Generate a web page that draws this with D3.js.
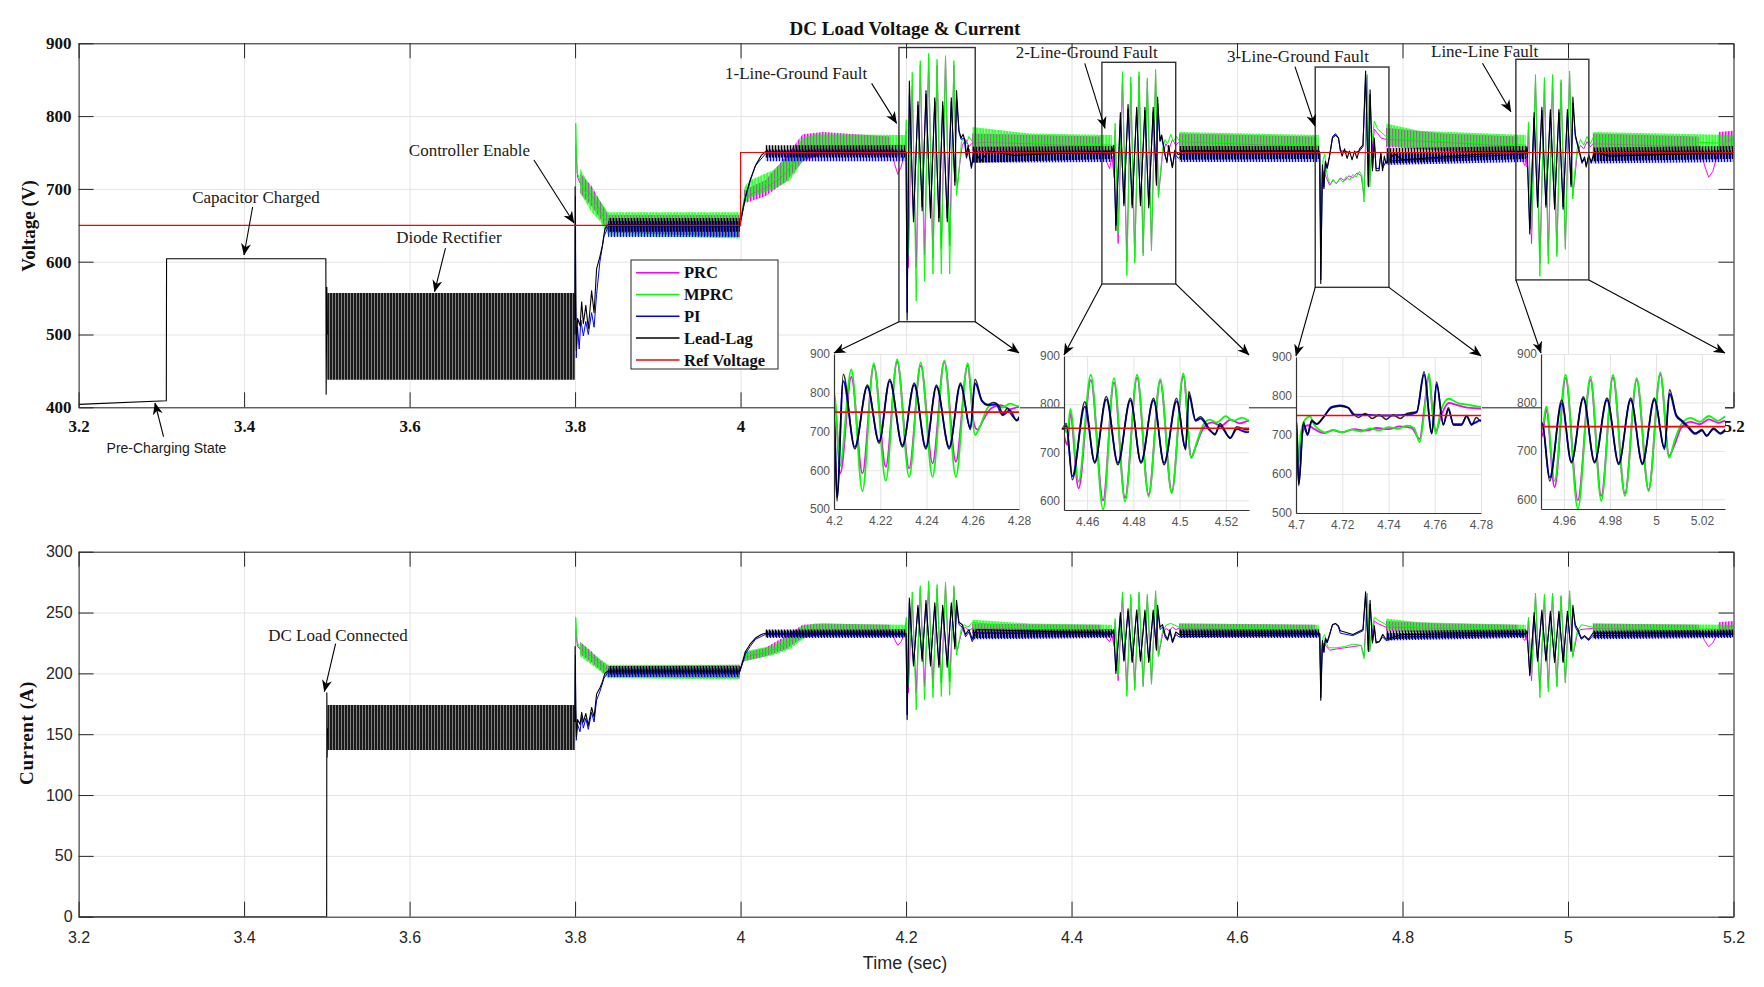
<!DOCTYPE html>
<html>
<head>
<meta charset="utf-8">
<script src="https://cdn.jsdelivr.net/npm/d3@7"></script>
<style>
  body { margin: 0; background: #fff; }
  svg { display: block; }
</style>
</head>
<body>
<div id="chart"></div>
<script>
// DC load voltage & current under four controllers, with zoomed fault insets.

const T_TICKS = [3.2, 3.4, 3.6, 3.8, 4, 4.2, 4.4, 4.6, 4.8, 5, 5.2];
const V_TICKS = [400, 500, 600, 700, 800, 900];
const I_TICKS = [0, 50, 100, 150, 200, 250, 300];
const SERIES = ['PRC', 'MPRC', 'PI', 'Lead-Lag'];
const LEGEND_LABELS = ['PRC', 'MPRC', 'PI', 'Lead-Lag', 'Ref Voltage'];

// ---- voltage traces [t (s), V] ----
const V_REF = [[3.2, 650], [4, 650], [4, 750], [5.2, 750]];

const V_PRC = [
  [3.8,500],[3.8008,760],[3.803,716],[3.806,708],[3.81,702],[3.815,697],[3.82,690],[3.825,682],[3.83,670],[3.835,660],[3.84,652],[3.999,651],
  [4.005,688],[4.015,694],[4.03,701],[4.045,712],[4.055,722],[4.065,737],[4.075,752],[4.09,759],[4.182,757],[4.186,735],[4.19,720],[4.194,730],[4.199,752],
  [4.2003,780],[4.2027,592],[4.2075,841],[4.2123,592],[4.2172,870],[4.2224,609],[4.2273,880],[4.2325,605],[4.2375,870],[4.2426,618],[4.2477,880],[4.2527,622],[4.2578,870],[4.2605,720],[4.262,705],[4.265,735],[4.268,760],[4.272,768],[4.276,758],[4.28,763],[4.3,764],[4.438,758],[4.442,738],[4.446,728],[4.449,745],
  [4.4515,715],[4.4527,780],[4.4563,625],[4.4616,850],[4.4669,600],[4.4716,845],[4.4764,605],[4.4816,855],[4.4866,612],[4.4916,848],[4.4966,618],[4.5016,858],[4.505,690],[4.507,712],[4.51,748],[4.514,762],[4.518,755],[4.522,768],[4.526,760],[4.53,765],[4.6,762],[4.695,757],
  [4.6995,745],[4.7008,660],[4.7015,640],[4.7025,700],[4.705,725],[4.708,715],[4.712,705],[4.716,712],[4.72,707],[4.725,715],[4.73,711],[4.735,718],[4.74,715],[4.745,722],[4.75,718],[4.7535,690],[4.7555,770],[4.7575,852],[4.759,765],[4.7605,710],[4.7625,745],[4.766,782],[4.77,776],[4.774,770],[4.78,768],[4.85,764],[4.942,758],[4.945,738],[4.948,732],[4.9495,745],
  [4.9505,730],[4.9523,785],[4.9559,625],[4.9607,850],[4.966,598],[4.9715,846],[4.9762,607],[4.9813,852],[4.9865,612],[4.9916,846],[4.9968,620],[5.0019,858],[5.0057,690],[5.008,712],[5.011,748],[5.015,760],[5.019,755],[5.023,765],[5.027,758],[5.03,762],[5.16,758],[5.165,732],[5.17,716],[5.175,724],[5.18,745],[5.19,765],[5.2,768]
];

const V_MPRC = [
  [3.8,500],[3.8008,790],[3.8025,722],[3.806,712],[3.81,700],[3.815,690],[3.82,682],[3.825,675],[3.83,667],[3.835,660],[3.84,652],[3.999,651],
  [4.005,690],[4.0115,700],[4.025,705],[4.04,712],[4.0516,722],[4.06,730],[4.068,745],[4.08,755],[4.09,760],[4.199,760],
  [4.2003,795],[4.2025,610],[4.2075,860],[4.2123,546],[4.2172,876],[4.2224,573],[4.2273,886],[4.2325,583],[4.2375,878],[4.2426,583],[4.2477,883],[4.2527,583],[4.2578,876],[4.261,691],[4.263,712],[4.267,765],[4.27,770],[4.273,762],[4.276,772],[4.28,765],[4.29,772],[4.35,764],[4.449,760],
  [4.4515,740],[4.4527,790],[4.4563,639],[4.4616,861],[4.4669,581],[4.4716,854],[4.4764,598],[4.4816,861],[4.4866,608],[4.4916,852],[4.4966,615],[4.5016,864],[4.505,688],[4.5075,722],[4.51,755],[4.513,768],[4.516,762],[4.52,775],[4.523,765],[4.527,772],[4.53,766],[4.6,763],[4.699,760],
  [4.7005,700],[4.7012,630],[4.702,700],[4.704,740],[4.706,748],[4.708,725],[4.7104,712],[4.713,706],[4.716,713],[4.72,707],[4.724,714],[4.728,709],[4.732,717],[4.736,712],[4.74,720],[4.744,716],[4.748,724],[4.751,718],[4.7535,682],[4.7555,760],[4.7575,857],[4.759,760],[4.7605,703],[4.7625,760],[4.766,793],[4.77,782],[4.774,778],[4.78,772],[4.82,768],[4.949,760],
  [4.9505,745],[4.9523,792],[4.9559,638],[4.9607,857],[4.966,580],[4.9715,853],[4.9762,597],[4.9813,857],[4.9865,607],[4.9916,850],[4.9968,617],[5.0019,862],[5.0057,686],[5.008,720],[5.011,755],[5.015,768],[5.019,760],[5.023,772],[5.027,762],[5.03,770],[5.2,762]
];

const V_PI = [
  [3.8,500],[3.8005,690],[3.8008,545],[3.8015,468],[3.803,510],[3.805,480],[3.807,520],[3.81,498],[3.813,518],[3.816,500],[3.82,530],[3.823,510],[3.826,555],[3.83,600],[3.835,635],[3.84,648],[3.999,648],
  [4.006,688],[4.012,712],[4.018,732],[4.03,748],[4.199,748],
  [4.2,748],[4.2013,530],[4.204,830],[4.209,660],[4.2144,815],[4.2195,675],[4.2241,830],[4.2296,665],[4.2347,820],[4.2397,660],[4.2443,815],[4.2498,660],[4.2547,820],[4.259,710],[4.261,825],[4.264,778],[4.2665,768],[4.27,770],[4.273,742],[4.276,755],[4.279,728],[4.282,750],[4.449,748],
  [4.451,755],[4.4536,650],[4.459,795],[4.4633,680],[4.4683,810],[4.4733,678],[4.4787,808],[4.4833,680],[4.4887,808],[4.4933,678],[4.4987,806],[4.5026,708],[4.504,818],[4.5069,765],[4.509,770],[4.5131,745],[4.5153,738],[4.5174,755],[4.5219,730],[4.5247,748],[4.529,742],[4.535,748],[4.699,748],
  [4.7,748],[4.7012,575],[4.7032,728],[4.705,700],[4.7068,735],[4.709,728],[4.7118,745],[4.7154,772],[4.719,776],[4.7226,770],[4.7248,752],[4.73,752],[4.736,750],[4.742,750],[4.748,752],[4.7522,758],[4.7554,855],[4.7587,705],[4.7608,830],[4.7637,728],[4.7659,765],[4.7681,728],[4.7716,728],[4.7738,748],[4.7759,728],[4.78,738],[4.949,748],
  [4.9505,755],[4.9538,645],[4.959,798],[4.9632,678],[4.9684,808],[4.9733,678],[4.9787,805],[4.9838,675],[4.989,805],[4.9941,675],[4.9993,805],[5.0037,706],[5.0059,818],[5.0088,772],[5.011,762],[5.014,748],[5.017,735],[5.02,742],[5.022,732],[5.025,745],[5.028,735],[5.032,748],[5.2,748]
];

const V_LEADLAG = [
  [3.2,404],[3.306,409],[3.3063,604],[3.4988,604],[3.4992,418],[3.5,565],[3.5006,500],[3.5008,null],[3.7996,null],[3.7998,520],
  [3.8,703],[3.8008,560],[3.8015,478],[3.803,522],[3.806,512],[3.808,545],[3.81,515],[3.813,540],[3.816,508],[3.82,560],[3.823,530],[3.826,590],[3.83,607],[3.833,622],[3.836,645],[3.84,651],[3.999,650],
  [4.006,690],[4.0115,712],[4.018,732],[4.025,746],[4.03,751],[4.199,751],
  [4.2,750],[4.2013,520],[4.204,848],[4.209,655],[4.2144,820],[4.2195,670],[4.2241,835],[4.2296,660],[4.2347,825],[4.2397,655],[4.2443,820],[4.2498,655],[4.2547,825],[4.259,705],[4.261,835],[4.264,780],[4.2665,770],[4.269,775],[4.2715,765],[4.273,745],[4.275,760],[4.2765,745],[4.279,730],[4.282,755],[4.29,738],[4.3,752],[4.33,746],[4.449,752],
  [4.451,760],[4.4536,643],[4.459,805],[4.4633,677],[4.4683,816],[4.4733,674],[4.4787,812],[4.4833,677],[4.4887,812],[4.4933,674],[4.4987,812],[4.5026,705],[4.504,826],[4.5069,767],[4.509,774],[4.5131,747],[4.5153,736],[4.5174,760],[4.5219,729],[4.5247,753],[4.529,747],[4.535,752],[4.699,752],
  [4.7,750],[4.7012,570],[4.7032,733],[4.705,703],[4.7068,738],[4.709,729],[4.7118,745],[4.7154,770],[4.719,774],[4.7226,770],[4.7248,755],[4.727,745],[4.73,755],[4.733,742],[4.736,752],[4.739,740],[4.742,752],[4.745,742],[4.748,755],[4.7522,760],[4.7554,862],[4.7587,703],[4.7608,836],[4.7637,725],[4.7659,770],[4.7681,725],[4.7716,725],[4.7738,750],[4.7759,725],[4.778,745],[4.78,735],[4.79,748],[4.8,740],[4.949,752],
  [4.9505,758],[4.9538,638],[4.959,805],[4.9632,675],[4.9684,812],[4.9733,675],[4.9787,809],[4.9838,672],[4.989,809],[4.9941,672],[4.9993,809],[5.0037,703],[5.0059,826],[5.0088,775],[5.011,764],[5.014,751],[5.017,737],[5.02,744],[5.022,730],[5.025,747],[5.028,737],[5.032,751],[5.05,745],[5.2,750]
];

// switching ripple envelopes [t, low, high]; null breaks the band
const V_DIODE_RIPPLE = [[3.5006, 438, 557], [3.7996, 438, 557]];
const V_PRC_RIPPLE = [
  [3.806,694,722],[3.82,676,704],[3.83,660,684],[3.84,640,664],[3.999,634,664],null,
  [4.004,680,698],[4.03,690,712],[4.055,710,745],[4.075,738,775],[4.1,748,778],[4.18,746,772],null,
  [4.28,752,776],[4.436,748,772],null,[4.53,752,776],[4.694,748,772],null,
  [4.78,758,784],[4.85,752,776],[4.94,748,772],null,[5.03,752,776],[5.158,750,772],null,[5.182,752,778],[5.2,755,780]
];
const V_MPRC_RIPPLE = [
  [3.806,695,728],[3.82,668,700],[3.83,656,684],[3.84,636,668],[3.999,632,668],null,
  [4.004,680,702],[4.0115,688,712],[4.04,700,726],[4.06,712,748],[4.075,738,770],[4.09,750,775],[4.199,748,774],null,
  [4.28,755,785],[4.35,752,776],[4.449,750,774],null,[4.53,752,778],[4.699,750,774],null,
  [4.78,760,790],[4.82,755,780],[4.949,750,774],null,[5.03,752,778],[5.2,750,774]
];
const V_PI_RIPPLE = [
  [3.84,634,656],[3.999,634,656],null,[4.03,738,754],[4.199,738,754],null,[4.28,736,752],[4.449,737,753],null,
  [4.53,737,753],[4.699,737,753],null,[4.78,733,750],[4.949,737,753],null,[5.03,735,752],[5.2,737,753]
];
const V_LEADLAG_RIPPLE = [
  [3.84,641,660],[3.999,641,660],null,[4.03,743,760],[4.199,743,760],null,[4.28,736,758],[4.449,741,759],null,
  [4.53,740,759],[4.699,741,759],null,[4.78,735,756],[4.949,741,759],null,[5.03,738,757],[5.2,741,759]
];

// ---- current traces [t (s), A] ----
const I_PRC = [
  [3.8,160],[3.8008,236],[3.803,222],[3.806,220],[3.81,218],[3.815,216],[3.82,214],[3.825,211],[3.83,208],[3.835,205],[3.84,202],[3.999,202],
  [4.005,213],[4.015,215],[4.03,217],[4.045,221],[4.055,224],[4.065,229],[4.075,234],[4.09,236],[4.182,235],[4.186,228],[4.19,223],[4.194,226],[4.199,234],
  [4.2003,242],[4.2027,184],[4.2075,261],[4.2123,184],[4.2172,270],[4.2224,189],[4.2273,273],[4.2325,188],[4.2375,270],[4.2426,192],[4.2477,273],[4.2527,193],[4.2578,270],[4.2605,224],[4.262,219],[4.265,228],[4.268,236],[4.272,238],[4.276,235],[4.28,237],[4.3,237],[4.438,235],[4.442,229],[4.446,226],[4.449,231],
  [4.4515,222],[4.4527,242],[4.4563,194],[4.4616,264],[4.4669,186],[4.4716,262],[4.4764,188],[4.4816,265],[4.4866,190],[4.4916,263],[4.4966,192],[4.5016,266],[4.505,214],[4.507,221],[4.51,232],[4.514,237],[4.518,235],[4.522,238],[4.526,236],[4.53,237],[4.695,235],
  [4.6995,231],[4.7008,205],[4.7015,199],[4.7025,217],[4.705,225],[4.708,222],[4.712,219],[4.72,220],[4.73,221],[4.74,222],[4.75,223],[4.7535,214],[4.7555,239],[4.7575,264],[4.759,237],[4.7605,220],[4.7625,231],[4.766,243],[4.77,241],[4.78,238],[4.85,237],[4.942,235],[4.945,229],[4.948,227],[4.9495,231],
  [4.9505,227],[4.9523,244],[4.9559,194],[4.9607,264],[4.966,186],[4.9715,263],[4.9762,188],[4.9813,265],[4.9865,190],[4.9916,263],[4.9968,193],[5.0019,266],[5.0057,214],[5.008,221],[5.011,232],[5.015,236],[5.03,237],[5.16,235],[5.165,227],[5.17,222],[5.175,225],[5.18,232],[5.19,238],[5.2,239]
];

const I_MPRC = [
  [3.8,160],[3.8008,246],[3.8025,226],[3.806,220],[3.81,216],[3.815,214],[3.82,212],[3.825,209],[3.83,206],[3.835,204],[3.84,202],[3.999,202],
  [4.005,214],[4.0115,216],[4.025,217],[4.04,219],[4.0516,223],[4.06,226],[4.068,231],[4.08,234],[4.09,236],[4.199,236],
  [4.2003,246],[4.2025,190],[4.2075,267],[4.2123,170],[4.2172,272],[4.2224,178],[4.2273,276],[4.2325,180],[4.2375,273],[4.2426,181],[4.2477,275],[4.2527,182],[4.2578,272],[4.261,215],[4.263,222],[4.267,238],[4.27,240],[4.275,238],[4.28,242],[4.29,241],[4.35,237],[4.449,236],
  [4.4515,230],[4.4527,245],[4.4563,198],[4.4616,267],[4.4669,181],[4.4716,265],[4.4764,186],[4.4816,267],[4.4866,189],[4.4916,265],[4.4966,191],[4.5016,268],[4.505,214],[4.5075,225],[4.51,235],[4.515,240],[4.52,241],[4.53,238],[4.699,236],
  [4.7005,218],[4.7012,196],[4.702,218],[4.704,230],[4.706,232],[4.708,225],[4.7104,221],[4.72,221],[4.73,222],[4.74,224],[4.75,223],[4.7535,212],[4.7555,236],[4.7575,266],[4.759,236],[4.7605,218],[4.7625,236],[4.766,246],[4.77,244],[4.78,240],[4.82,238],[4.949,236],
  [4.9505,232],[4.9523,246],[4.9559,198],[4.9607,266],[4.966,180],[4.9715,265],[4.9762,185],[4.9813,266],[4.9865,189],[4.9916,264],[4.9968,192],[5.0019,268],[5.0057,213],[5.008,224],[5.011,234],[5.016,240],[5.03,238],[5.2,236]
];

const I_PI = [
  [3.8,160],[3.8005,215],[3.8008,170],[3.8015,145],[3.803,158],[3.806,152],[3.808,164],[3.81,155],[3.813,163],[3.816,154],[3.82,168],[3.823,160],[3.826,178],[3.83,185],[3.835,196],[3.84,201],[3.999,201],
  [4.006,216],[4.0115,222],[4.018,228],[4.03,232],[4.199,232],
  [4.2,232],[4.2013,166],[4.204,258],[4.209,208],[4.2144,254],[4.2195,212],[4.2241,257],[4.2296,208],[4.2347,255],[4.2397,207],[4.2443,254],[4.2498,207],[4.2547,255],[4.259,222],[4.261,256],[4.264,240],[4.268,238],[4.272,230],[4.276,234],[4.28,226],[4.285,233],[4.449,232],
  [4.451,234],[4.4536,202],[4.459,247],[4.4633,211],[4.4683,251],[4.4733,210],[4.4787,250],[4.4833,211],[4.4887,250],[4.4933,210],[4.4987,250],[4.5026,220],[4.504,253],[4.507,236],[4.51,238],[4.513,230],[4.516,227],[4.519,234],[4.522,225],[4.526,232],[4.53,230],[4.699,232],
  [4.7,232],[4.7012,180],[4.7032,225],[4.705,217],[4.7068,228],[4.709,225],[4.7118,231],[4.7154,240],[4.719,241],[4.7226,238],[4.7248,233],[4.74,231],[4.7522,235],[4.7554,264],[4.7587,219],[4.7608,257],[4.7637,226],[4.766,237],[4.768,226],[4.772,226],[4.776,230],[4.78,227],[4.8,230],[4.949,232],
  [4.9505,234],[4.9538,200],[4.959,247],[4.9632,211],[4.9684,250],[4.9733,211],[4.9787,249],[4.9838,210],[4.989,249],[4.9941,210],[4.9993,249],[5.0037,219],[5.0059,253],[5.0088,238],[5.012,234],[5.016,228],[5.02,230],[5.025,227],[5.03,231],[5.2,232]
];

const I_LEADLAG = [
  [3.2,0],[3.4998,0],[3.5,184],[3.5004,131],[3.5008,155],[3.501,null],[3.7996,null],[3.7998,160],
  [3.8,222],[3.8008,175],[3.8015,148],[3.803,162],[3.806,158],[3.808,168],[3.81,160],[3.813,167],[3.816,157],[3.82,172],[3.823,164],[3.826,183],[3.83,188],[3.833,193],[3.836,200],[3.84,202],[3.999,202],
  [4.006,218],[4.0115,224],[4.018,229],[4.025,232],[4.03,233],[4.199,233],
  [4.2,233],[4.2013,162],[4.204,262],[4.209,206],[4.2144,256],[4.2195,210],[4.2241,260],[4.2296,206],[4.2347,258],[4.2397,205],[4.2443,256],[4.2498,205],[4.2547,258],[4.259,220],[4.261,260],[4.264,242],[4.268,240],[4.272,232],[4.276,236],[4.28,228],[4.285,236],[4.449,233],
  [4.451,236],[4.4536,200],[4.459,250],[4.4633,210],[4.4683,253],[4.4733,209],[4.4787,252],[4.4833,210],[4.4887,252],[4.4933,209],[4.4987,252],[4.5026,219],[4.504,256],[4.507,238],[4.51,240],[4.513,232],[4.516,228],[4.519,236],[4.522,226],[4.526,234],[4.53,232],[4.699,233],
  [4.7,233],[4.7012,178],[4.7032,227],[4.705,218],[4.7068,229],[4.709,226],[4.7118,232],[4.7154,240],[4.719,241],[4.7226,239],[4.7248,235],[4.73,234],[4.74,232],[4.7522,236],[4.7554,267],[4.7587,218],[4.7608,260],[4.7637,225],[4.766,239],[4.768,225],[4.772,226],[4.776,232],[4.78,228],[4.8,232],[4.949,233],
  [4.9505,235],[4.9538,198],[4.959,250],[4.9632,210],[4.9684,252],[4.9733,210],[4.9787,251],[4.9838,209],[4.989,251],[4.9941,209],[4.9993,251],[5.0037,218],[5.0059,256],[5.0088,240],[5.012,236],[5.016,229],[5.02,231],[5.025,228],[5.03,233],[5.2,233]
];

const I_DIODE_RIPPLE = [[3.5008, 137, 174], [3.7996, 137, 174]];
const I_PRC_RIPPLE = [
  [3.806,216,226],[3.82,209,218],[3.83,203,211],[3.84,197,206],[3.999,196,207],null,
  [4.004,210,217],[4.03,214,221],[4.055,220,231],[4.075,229,240],[4.1,232,241],[4.18,231,240],null,
  [4.28,233,241],[4.436,232,240],null,[4.53,233,241],[4.694,232,240],null,
  [4.78,235,243],[4.85,233,241],[4.94,232,240],null,[5.03,233,241],[5.158,232,240],null,[5.182,233,242],[5.2,234,243]
];
const I_MPRC_RIPPLE = [
  [3.806,214,226],[3.82,207,217],[3.83,202,212],[3.84,196,207],[3.999,195,207],null,
  [4.004,210,218],[4.04,215,223],[4.06,220,232],[4.075,228,239],[4.09,232,241],[4.199,232,240],null,
  [4.28,234,244],[4.35,233,241],[4.449,232,240],null,[4.53,233,241],[4.699,232,240],null,
  [4.78,236,245],[4.82,234,242],[4.949,232,240],null,[5.03,233,241],[5.2,232,240]
];
const I_PI_RIPPLE = [
  [3.84,197,204],[3.999,197,204],null,[4.03,229,235],[4.199,229,235],null,[4.28,228,234],[4.449,229,235],null,
  [4.53,229,235],[4.699,229,235],null,[4.78,227,233],[4.949,229,235],null,[5.03,228,234],[5.2,229,235]
];
const I_LEADLAG_RIPPLE = [
  [3.84,199,206],[3.999,199,206],null,[4.03,230,236],[4.199,230,236],null,[4.28,229,236],[4.449,230,236],null,
  [4.53,230,236],[4.699,230,236],null,[4.78,228,235],[4.949,230,236],null,[5.03,229,235],[5.2,230,236]
];

// ---- zoom windows [t0, t1, Vlow, Vhigh] and the inset domains they expand into ----
const ZOOM_WINDOWS = [[4.1914, 4.2836, 517.6, 894.2], [4.4367, 4.5259, 569.4, 873.9], [4.6945, 4.7836, 564.8, 867.4], [4.937, 5.0252, 575, 878]];
const INSET_T = [[4.2, 4.28], [4.45, 4.53], [4.7, 4.78], [4.95, 5.03]];
const INSET_V = [[500, 900], [580, 900], [500, 900], [580, 900]];
const INSET_T_TICKS = [[4.2, 4.22, 4.24, 4.26, 4.28], [4.46, 4.48, 4.5, 4.52], [4.7, 4.72, 4.74, 4.76, 4.78], [4.96, 4.98, 5, 5.02]];
const INSET_V_TICKS = [[500, 600, 700, 800, 900], [600, 700, 800, 900], [500, 600, 700, 800, 900], [600, 700, 800, 900]];

// ---- annotations: label anchor and arrow, in data units ----
const V_NOTES = [
  { text: 'Capacitor Charged', at: [3.4144, 680.6], from: [3.4103, 675.1], to: [3.3999, 609.2] },
  { text: 'Diode Rectifier', at: [3.6476, 625.7], from: [3.6434, 618.8], to: [3.6302, 558.8] },
  { text: 'Controller Enable', at: [3.6724, 745.2], from: [3.7503, 739.7], to: [3.7987, 653.2] },
  { text: 'Pre-Charging State', at: [3.3062, 337.2], from: [3.3027, 359.6], to: [3.2923, 405.9], sans: true },
  { text: '1-Line-Ground Fault', at: [4.0671, 850.3], from: [4.1584, 845], to: [4.1886, 790] },
  { text: '2-Line-Ground Fault', at: [4.4184, 879.8], from: [4.416, 872.5], to: [4.4404, 783.2] },
  { text: '3-Line-Ground Fault', at: [4.6736, 875], from: [4.67, 867.9], to: [4.6941, 786.4] },
  { text: 'Line-Line Fault', at: [4.8992, 881.2], from: [4.8966, 872.5], to: [4.931, 806] },
];
const I_NOTES = [
  { text: 'DC Load Connected', at: [3.5135, 227], from: [3.5106, 224.5], to: [3.497, 185] },
];

// ---- layout & style ----
const W = 1764, H = 987;
const PLOT_X = [78.6, 1733.5];
const TOP_BOX = [78.6, 43.3, 1733.5, 407.3];
const BOT_BOX = [78.6, 551.7, 1733.5, 916.7];
const INSET_BOX = [[834, 354, 1019, 509], [1064, 356, 1249, 510], [1296, 357, 1481, 513], [1541, 354, 1725, 509]];
const COLOR = { PRC: '#ff00ff', MPRC: '#00ff00', PI: '#0000ff', 'Lead-Lag': '#000000', 'Ref Voltage': '#ff0000' };
// hatch: [pixel offset, stroke width, tint opacity] on a 3 px period
const RIPPLE_HATCH = { PRC: [0, 1.4, 0.3], MPRC: [1.5, 1.4, 0.3], PI: [2, 1, 0.25], 'Lead-Lag': [1, 1, 0.3] };
const SERIF = "'Liberation Serif', 'Times New Roman', serif";
const SANS = "'Liberation Sans', Arial, Helvetica, sans-serif";
const GRID = '#e4e4e4';
const AXIS = '#262626';
const fmt = d3.format('~g');

const V_LINES = { PRC: V_PRC, MPRC: V_MPRC, PI: V_PI, 'Lead-Lag': V_LEADLAG };
const V_BANDS = { PRC: V_PRC_RIPPLE, MPRC: V_MPRC_RIPPLE, PI: V_PI_RIPPLE, 'Lead-Lag': V_LEADLAG_RIPPLE };
const I_LINES = { PRC: I_PRC, MPRC: I_MPRC, PI: I_PI, 'Lead-Lag': I_LEADLAG };
const I_BANDS = { PRC: I_PRC_RIPPLE, MPRC: I_MPRC_RIPPLE, PI: I_PI_RIPPLE, 'Lead-Lag': I_LEADLAG_RIPPLE };

const svg = d3.select('#chart').append('svg').attr('width', W).attr('height', H)
  .style('background', '#fff');
const defs = svg.append('defs');

const x = d3.scaleLinear().domain([3.2, 5.2]).range(PLOT_X);
const yV = d3.scaleLinear().domain([400, 900]).range([TOP_BOX[3], TOP_BOX[1]]);
const yI = d3.scaleLinear().domain([0, 300]).range([BOT_BOX[3], BOT_BOX[1]]);

// arrow head like MATLAB's annotation arrows (notched)
defs.append('marker')
  .attr('id', 'arrow')
  .attr('viewBox', '0 0 12 10')
  .attr('refX', 11.5)
  .attr('refY', 5)
  .attr('markerWidth', 12)
  .attr('markerHeight', 10)
  .attr('markerUnits', 'userSpaceOnUse')
  .attr('orient', 'auto')
  .append('path')
  .attr('d', 'M0,0 L12,5 L0,10 L3.5,5 z')
  .attr('fill', '#000');

// dense switching ripple: a light tint plus thin vertical strokes
function hatch(id, color, offset, period, width, tint) {
  const p = defs.append('pattern')
    .attr('id', id)
    .attr('patternUnits', 'userSpaceOnUse')
    .attr('x', offset)
    .attr('width', period)
    .attr('height', 20);
  p.append('rect').attr('width', period).attr('height', 20).attr('fill', color).attr('fill-opacity', tint);
  p.append('rect').attr('width', width).attr('height', 20).attr('fill', color);
}
SERIES.forEach((s, i) => hatch(`rip-${i}`, COLOR[s], RIPPLE_HATCH[s][0], 3, RIPPLE_HATCH[s][1], RIPPLE_HATCH[s][2]));
hatch('rip-diode', '#1a1a1a', 0, 3, 2, 0.55);

function clip(id, box) {
  defs.append('clipPath').attr('id', id)
    .append('rect').attr('x', box[0]).attr('y', box[1]).attr('width', box[2] - box[0]).attr('height', box[3] - box[1]);
}
clip('clip-top', TOP_BOX);
clip('clip-bot', BOT_BOX);
INSET_BOX.forEach((b, i) => clip(`clip-in${i}`, b));

function gridLines(g, sx, sy, xTicks, yTicks, box) {
  const [x0, y0, x1, y1] = box;
  g.append('g').attr('transform', `translate(0,${y1})`)
    .call(d3.axisBottom(sx).tickValues(xTicks).tickSize(-(y1 - y0)).tickFormat(''))
    .call((a) => a.select('.domain').remove())
    .selectAll('line').attr('stroke', GRID);
  g.append('g').attr('transform', `translate(${x0},0)`)
    .call(d3.axisLeft(sy).tickValues(yTicks).tickSize(-(x1 - x0)).tickFormat(''))
    .call((a) => a.select('.domain').remove())
    .selectAll('line').attr('stroke', GRID);
}

function frame(g, sy, yTicks, box, font) {
  const [x0, y0, x1, y1] = box;
  const axes = [
    g.append('g').attr('transform', `translate(0,${y1})`)
      .call(d3.axisBottom(x).tickValues(T_TICKS).tickSizeInner(-15).tickSizeOuter(0).tickPadding(font.xPad).tickFormat(fmt)),
    g.append('g').attr('transform', `translate(0,${y0})`)
      .call(d3.axisTop(x).tickValues(T_TICKS).tickSizeInner(-15).tickSizeOuter(0).tickFormat('')),
    g.append('g').attr('transform', `translate(${x0},0)`)
      .call(d3.axisLeft(sy).tickValues(yTicks).tickSizeInner(-15).tickSizeOuter(0).tickPadding(font.yPad).tickFormat(fmt)),
    g.append('g').attr('transform', `translate(${x1},0)`)
      .call(d3.axisRight(sy).tickValues(yTicks).tickSizeInner(-15).tickSizeOuter(0).tickFormat('')),
  ];
  axes.forEach((a) => {
    a.attr('color', AXIS)
      .attr('font-family', font.family)
      .attr('font-size', font.size)
      .attr('font-weight', font.weight);
    a.selectAll('text').attr('fill', font.color);
  });
}

function traces(g, sy, lines, bands, diode, clipId, ref) {
  const body = g.append('g').attr('clip-path', `url(#${clipId})`);
  const line = d3.line().defined((d) => d[1] !== null).x((d) => x(d[0])).y((d) => sy(d[1]));
  const band = d3.area().defined((d) => d !== null).x((d) => x(d[0])).y0((d) => sy(d[1])).y1((d) => sy(d[2]));
  SERIES.forEach((s, i) => {
    body.append('path').datum(bands[s]).attr('d', band).attr('fill', `url(#rip-${i})`);
    if (s === 'Lead-Lag') {
      body.append('path').datum(diode).attr('d', band).attr('fill', 'url(#rip-diode)');
    }
    body.append('path').datum(lines[s]).attr('d', line)
      .attr('fill', 'none').attr('stroke', COLOR[s]).attr('stroke-width', s === 'Lead-Lag' ? 1.1 : 1)
      .attr('stroke-linejoin', 'round');
  });
  if (ref) {
    body.append('path').datum(ref).attr('d', line)
      .attr('fill', 'none').attr('stroke', COLOR['Ref Voltage']).attr('stroke-width', 1.2);
  }
}

function notes(g, sy, list) {
  list.forEach((n) => {
    g.append('text')
      .attr('x', x(n.at[0]))
      .attr('y', sy(n.at[1]))
      .attr('text-anchor', 'middle')
      .attr('font-family', n.sans ? SANS : SERIF)
      .attr('font-size', n.sans ? 14 : 17)
      .attr('fill', '#1a1a1a')
      .text(n.text);
    g.append('line')
      .attr('x1', x(n.from[0])).attr('y1', sy(n.from[1]))
      .attr('x2', x(n.to[0])).attr('y2', sy(n.to[1]))
      .attr('stroke', '#000').attr('stroke-width', 1.1)
      .attr('marker-end', 'url(#arrow)');
  });
}

// ---------- voltage panel ----------
const voltPanel = svg.append('g');
gridLines(voltPanel, x, yV, T_TICKS, V_TICKS, TOP_BOX);
traces(voltPanel, yV, V_LINES, V_BANDS, V_DIODE_RIPPLE, 'clip-top', V_REF);
frame(voltPanel, yV, V_TICKS, TOP_BOX, { family: SERIF, size: 17, weight: 'bold', color: '#111', xPad: 13, yPad: 7 });

// legend
const legend = voltPanel.append('g');
legend.append('rect')
  .attr('x', 631).attr('y', 260).attr('width', 147).attr('height', 109)
  .attr('fill', '#fff').attr('stroke', AXIS).attr('stroke-width', 1);
LEGEND_LABELS.forEach((lab, i) => {
  const cy = 272.7 + i * 21.8;
  legend.append('line')
    .attr('x1', 636).attr('x2', 679.5).attr('y1', cy).attr('y2', cy)
    .attr('stroke', COLOR[lab]).attr('stroke-width', 1.5);
  legend.append('text')
    .attr('x', 684).attr('y', cy + 5.6)
    .attr('font-family', SERIF).attr('font-size', 16.5).attr('font-weight', 'bold')
    .attr('fill', '#111')
    .text(lab);
});

// zoom windows
voltPanel.append('g').selectAll('rect')
  .data(ZOOM_WINDOWS)
  .join('rect')
  .attr('x', (d) => x(d[0]))
  .attr('y', (d) => yV(d[3]))
  .attr('width', (d) => x(d[1]) - x(d[0]))
  .attr('height', (d) => yV(d[2]) - yV(d[3]))
  .attr('fill', 'none')
  .attr('stroke', '#333')
  .attr('stroke-width', 1.4);

notes(voltPanel, yV, V_NOTES);

voltPanel.append('text')
  .attr('x', 905).attr('y', 34.5)
  .attr('text-anchor', 'middle')
  .attr('font-family', SERIF).attr('font-size', 19).attr('font-weight', 'bold')
  .attr('fill', '#111')
  .text('DC Load Voltage & Current');

voltPanel.append('text')
  .attr('transform', 'translate(35,226) rotate(-90)')
  .attr('text-anchor', 'middle')
  .attr('font-family', SERIF).attr('font-size', 19).attr('font-weight', 'bold')
  .attr('fill', '#111')
  .text('Voltage (V)');

// ---------- current panel ----------
const ampPanel = svg.append('g');
gridLines(ampPanel, x, yI, T_TICKS, I_TICKS, BOT_BOX);
traces(ampPanel, yI, I_LINES, I_BANDS, I_DIODE_RIPPLE, 'clip-bot', null);
frame(ampPanel, yI, I_TICKS, BOT_BOX, { family: SANS, size: 16, weight: 'normal', color: '#262626', xPad: 15, yPad: 6 });
notes(ampPanel, yI, I_NOTES);

ampPanel.append('text')
  .attr('transform', 'translate(33,733) rotate(-90)')
  .attr('text-anchor', 'middle')
  .attr('font-family', SERIF).attr('font-size', 19).attr('font-weight', 'bold')
  .attr('letter-spacing', 0.6)
  .attr('fill', '#111')
  .text('Current (A)');

ampPanel.append('text')
  .attr('x', 905).attr('y', 969)
  .attr('text-anchor', 'middle')
  .attr('font-family', SANS).attr('font-size', 18)
  .attr('fill', '#262626')
  .text('Time (sec)');

// ---------- fault insets ----------
INSET_BOX.forEach((box, i) => {
  const [x0, y0, x1, y1] = box;
  const ix = d3.scaleLinear().domain(INSET_T[i]).range([x0, x1]);
  const iy = d3.scaleLinear().domain(INSET_V[i]).range([y1, y0]);
  const g = svg.append('g');
  g.append('rect').attr('x', x0).attr('y', y0).attr('width', x1 - x0).attr('height', y1 - y0).attr('fill', '#fff');
  gridLines(g, ix, iy, INSET_T_TICKS[i], INSET_V_TICKS[i], box);

  const body = g.append('g').attr('clip-path', `url(#clip-in${i})`);
  const smooth = d3.line().defined((d) => d[1] !== null).x((d) => ix(d[0])).y((d) => iy(d[1])).curve(d3.curveMonotoneX);
  const straight = d3.line().x((d) => ix(d[0])).y((d) => iy(d[1]));
  SERIES.forEach((s) => {
    body.append('path').datum(V_LINES[s]).attr('d', smooth)
      .attr('fill', 'none').attr('stroke', COLOR[s]).attr('stroke-width', s === 'Lead-Lag' ? 1.5 : 1.8)
      .attr('stroke-opacity', s === 'Lead-Lag' ? 0.85 : 1);
  });
  body.append('path').datum(V_REF).attr('d', straight)
    .attr('fill', 'none').attr('stroke', COLOR['Ref Voltage']).attr('stroke-width', 1.6);

  const style = (a) => a.attr('color', '#333').attr('font-family', SANS).attr('font-size', 12)
    .selectAll('text').attr('fill', '#555');
  g.append('g').attr('transform', `translate(0,${y1})`)
    .call(d3.axisBottom(ix).tickValues(INSET_T_TICKS[i]).tickSize(0).tickPadding(7).tickFormat(fmt))
    .call(style);
  g.append('g').attr('transform', `translate(${x0},0)`)
    .call(d3.axisLeft(iy).tickValues(INSET_V_TICKS[i]).tickSize(0).tickPadding(4).tickFormat(fmt))
    .call(style);
  g.selectAll('.domain').attr('stroke', '#333').attr('stroke-width', 1.2);

  // connectors from the zoom window to the inset corners
  const zw = ZOOM_WINDOWS[i];
  [[zw[0], x0], [zw[1], x1]].forEach(([t, px]) => {
    g.append('line')
      .attr('x1', x(t)).attr('y1', yV(zw[2]))
      .attr('x2', px).attr('y2', y0 - 1)
      .attr('stroke', '#000').attr('stroke-width', 1.1)
      .attr('marker-end', 'url(#arrow)');
  });
});
</script>
</body>
</html>
